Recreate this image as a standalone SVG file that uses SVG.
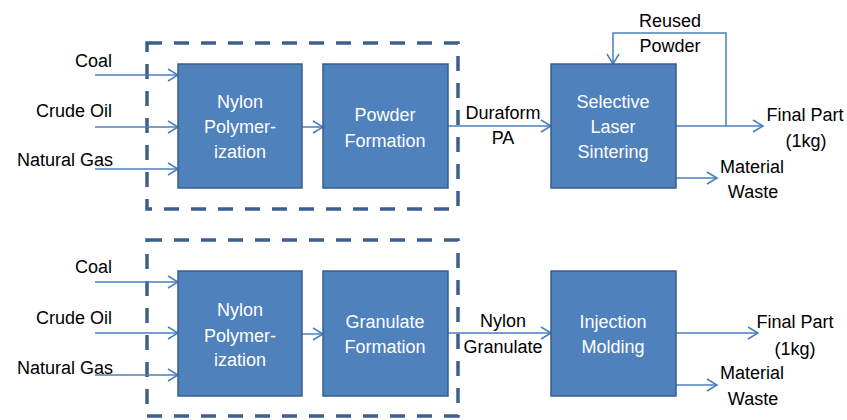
<svg xmlns="http://www.w3.org/2000/svg" width="847" height="420" viewBox="0 0 847 420">
<defs>
<marker id="arr" markerUnits="userSpaceOnUse" markerWidth="14" markerHeight="16" refX="11" refY="7" orient="auto">
<path d="M1,1 L11,7 L1,13" fill="none" stroke="#4A7EBB" stroke-width="1.5"/>
</marker>
</defs>
<style>
.box{fill:#4F81BD;stroke:#385D8A;stroke-width:1.5}
.grp{fill:none;stroke:#3C5F8E;stroke-width:3.5;stroke-dasharray:15 12}
.c{fill:none;stroke:#4A7EBB;stroke-width:1.5}
.ca{fill:none;stroke:#4A7EBB;stroke-width:1.5;marker-end:url(#arr)}
text{font-family:"Liberation Sans",Arial,sans-serif;font-size:18px}
.w{fill:#FFFFFF;text-anchor:middle}
.k{fill:#000000}
.m{text-anchor:middle}
.r{text-anchor:end}
</style>
<rect width="847" height="420" fill="#FFFFFF"/>
<g id="group-top"><rect class="grp" x="147" y="43" width="311" height="166"/></g>
<g id="group-bottom"><rect class="grp" x="147" y="240" width="311" height="176"/></g>
<g id="connectors">
<path class="ca" d="M95,75 H178"/>
<path class="ca" d="M95,127 H178"/>
<path class="ca" d="M95,169 H178"/>
<path class="ca" d="M302,127 H323"/>
<path class="ca" d="M448,126 H551"/>
<path class="ca" d="M676,126 H763"/>
<path class="ca" d="M726,126 V33 H613 V64"/>
<path class="ca" d="M676,178 H717"/>
<path class="ca" d="M95,282 H178"/>
<path class="ca" d="M95,333 H178"/>
<path class="ca" d="M95,375 H178"/>
<path class="ca" d="M302,334 H323"/>
<path class="ca" d="M448,333 H551"/>
<path class="ca" d="M676,333 H758"/>
<path class="ca" d="M676,385 H717"/>
</g>
<g id="labels-top">
<text class="k r" x="112" y="67">Coal</text>
<text class="k r" x="112" y="117">Crude Oil</text>
<text class="k r" x="113" y="166">Natural Gas</text>
<text class="k m" x="503" y="119">Duraform</text>
<text class="k m" x="503" y="144">PA</text>
<text class="k m" x="670" y="27">Reused</text>
<text class="k m" x="670" y="52">Powder</text>
<text class="k m" x="805" y="121">Final Part</text>
<text class="k m" x="806" y="147">(1kg)</text>
<text class="k m" x="752" y="173">Material</text>
<text class="k m" x="753" y="198">Waste</text>
</g>
<g id="labels-bottom">
<text class="k r" x="112" y="273">Coal</text>
<text class="k r" x="112" y="324">Crude Oil</text>
<text class="k r" x="113" y="374">Natural Gas</text>
<text class="k m" x="503" y="327">Nylon</text>
<text class="k m" x="503" y="353">Granulate</text>
<text class="k m" x="795" y="328">Final Part</text>
<text class="k m" x="795" y="355">(1kg)</text>
<text class="k m" x="752" y="379">Material</text>
<text class="k m" x="753" y="405">Waste</text>
</g>
<g id="nylon-top"><rect class="box" x="178" y="64" width="124" height="124"/>
<text class="w" x="240" y="108">Nylon</text><text class="w" x="240" y="133">Polymer-</text><text class="w" x="240" y="158">ization</text></g>
<g id="powder"><rect class="box" x="323" y="64" width="125" height="124"/>
<text class="w" x="385" y="121">Powder</text><text class="w" x="385" y="147">Formation</text></g>
<g id="sls"><rect class="box" x="551" y="64" width="125" height="124"/>
<text class="w" x="613" y="108">Selective</text><text class="w" x="613" y="133">Laser</text><text class="w" x="613" y="158">Sintering</text></g>
<g id="nylon-bottom"><rect class="box" x="178" y="271" width="124" height="125"/>
<text class="w" x="240" y="316">Nylon</text><text class="w" x="240" y="342">Polymer-</text><text class="w" x="240" y="366">ization</text></g>
<g id="granulate"><rect class="box" x="323" y="271" width="125" height="125"/>
<text class="w" x="385" y="328">Granulate</text><text class="w" x="385" y="353">Formation</text></g>
<g id="injection"><rect class="box" x="551" y="271" width="125" height="125"/>
<text class="w" x="613" y="328">Injection</text><text class="w" x="613" y="353">Molding</text></g>
</svg>
